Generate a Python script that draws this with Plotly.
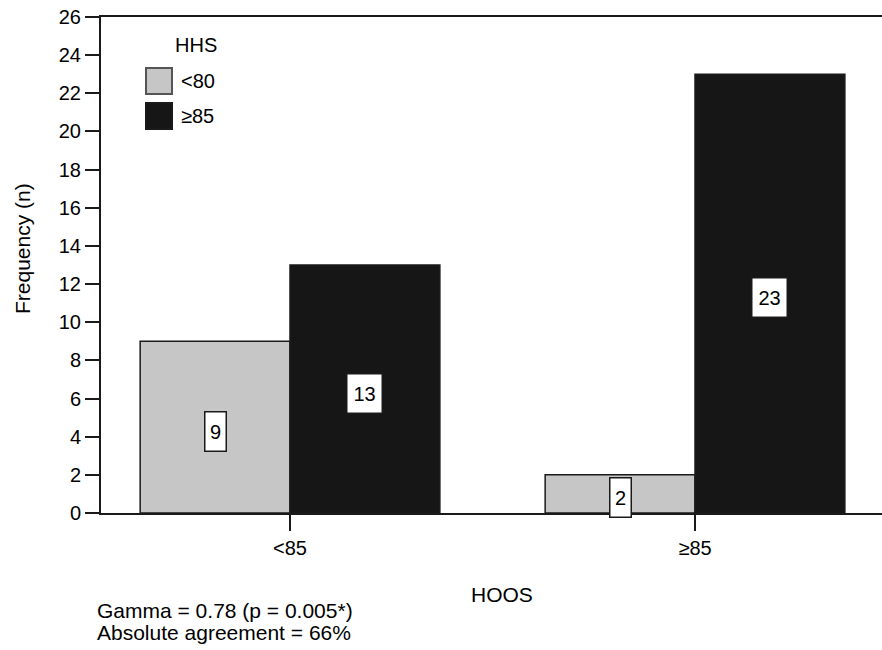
import plotly.graph_objects as go

categories = ["<85", "≥85"]
series_names = ["<80", "≥85"]
values_low = [9, 2]      # HHS <80
values_high = [13, 23]   # HHS ≥85
y_ticks = list(range(0, 27, 2))
legend_title = "HHS"
x_title = "HOOS"
y_title = "Frequency (n)"
notes = ["Gamma = 0.78 (p = 0.005*)", "Absolute agreement = 66%"]

colors = ["#c6c6c6", "#161616"]
edge_colors = ["#555555", "#1a1a1a"]
FONT = "Liberation Sans, Arial, sans-serif"
bargap = 0.26

# plot area geometry in pixels
L, T, B, W, H = 101, 17, 137, 882, 650
PW, PH = W - L, H - T - B


def px_x(p):
    return (p - L) / PW


def px_y(p):
    return (H - B - p) / PH


fig = go.Figure()
for name, vals, col in zip(series_names, [values_low, values_high], colors):
    fig.add_trace(go.Bar(
        x=categories, y=vals, name=name, showlegend=False,
        marker=dict(color=col, line=dict(color="#1a1a1a", width=1.5)),
    ))

off = (1 - bargap) / 4
for j, vals in enumerate([values_low, values_high]):
    for i, v in enumerate(vals):
        fig.add_annotation(
            x=i + (-off if j == 0 else off), y=v / 2, xref="x", yref="y",
            text=str(v), showarrow=False, yshift=-4,
            font=dict(size=20, color="black", family=FONT),
            bgcolor="white", bordercolor="#1a1a1a", borderwidth=1.5,
            borderpad=1, width=18 if v < 10 else 32, height=36,
        )

# legend (title + swatches + labels)
fig.add_annotation(x=px_x(173), y=px_y(45), xref="paper", yref="paper",
                   text=legend_title, showarrow=False, xanchor="left", yanchor="middle",
                   font=dict(size=20, color="black", family=FONT))
for k, (name, col, ec) in enumerate(zip(series_names, colors, edge_colors)):
    top = 68 + 35 * k
    fig.add_shape(type="rect", xref="paper", yref="paper",
                  x0=px_x(146), x1=px_x(172), y0=px_y(top), y1=px_y(top + 26),
                  fillcolor=col, line=dict(color=ec, width=2))
    fig.add_annotation(x=px_x(179), y=px_y(top + 13), xref="paper", yref="paper",
                       text=name, showarrow=False, xanchor="left", yanchor="middle",
                       font=dict(size=20, color="black", family=FONT))

# axis titles
fig.add_annotation(x=px_x(22), y=px_y(249), xref="paper", yref="paper",
                   text=y_title, showarrow=False, textangle=-90,
                   xanchor="center", yanchor="middle",
                   font=dict(size=21, color="black", family=FONT))
fig.add_annotation(x=px_x(502), y=px_y(594), xref="paper", yref="paper",
                   text=x_title, showarrow=False, xanchor="center", yanchor="middle",
                   font=dict(size=21, color="black", family=FONT))

for k, note in enumerate(notes):
    fig.add_annotation(x=px_x(95), y=px_y(610 + 22 * k), xref="paper", yref="paper",
                       text=note, showarrow=False, xanchor="left", yanchor="middle",
                       font=dict(size=21, color="black", family=FONT))

fig.update_layout(
    width=W, height=H,
    margin=dict(l=L, r=0, t=T, b=B),
    paper_bgcolor="white", plot_bgcolor="white",
    barmode="group", bargap=bargap, bargroupgap=0,
    font=dict(family=FONT, size=20, color="black"),
    showlegend=False,
    xaxis=dict(range=[-0.4667, 1.4617], showline=True, mirror=True,
               linecolor="#1a1a1a", linewidth=2, ticks="outside",
               ticklen=16, tickwidth=2, tickcolor="#1a1a1a",
               tickfont=dict(size=20), showgrid=False),
    yaxis=dict(range=[0, 26], tickvals=y_ticks, showline=True,
               linecolor="#1a1a1a", linewidth=2, ticks="outside",
               ticklen=14, tickwidth=2, tickcolor="#1a1a1a",
               tickfont=dict(size=20), showgrid=False, zeroline=False),
)

fig.write_html("out.html", config={"displayModeBar": False},
               post_script="document.body.style.margin='0';document.body.style.padding='0';")
